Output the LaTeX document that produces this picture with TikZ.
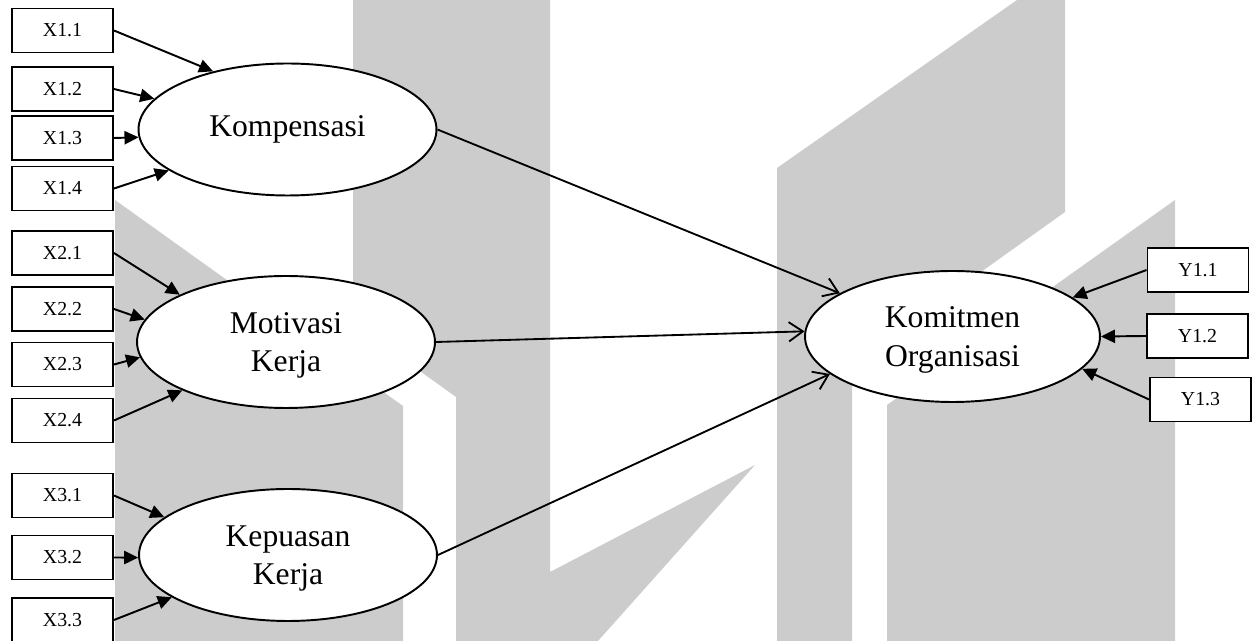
\documentclass[tikz,border=0pt]{standalone}
\usepackage{fontspec}
\setmainfont{Liberation Serif}
\usetikzlibrary{shapes.geometric}
\usetikzlibrary{arrows.meta}
\definecolor{wmgray}{RGB}{204,204,204}

\begin{document}
\begin{tikzpicture}[x=0.02cm, y=-0.02cm,
	ind/.style={draw, fill=white, line width=1.1pt, minimum width=2.02cm, minimum height=0.88cm, inner sep=0pt, font=\fontsize{11.3}{13}\selectfont},
	lat/.style={draw, ellipse, fill=white, line width=1.1pt, minimum width=5.96cm, minimum height=2.64cm, inner sep=0pt, align=center, font=\fontsize{18}{22}\selectfont},
	lat2/.style={lat, text depth=-4pt},
	loading/.style={-{Triangle[length=8pt,width=7.5pt]}, line width=1.1pt},
	effect/.style={-{Straight Barb[length=8pt,width=11pt]}, line width=1.05pt}]
		\useasboundingbox (0,0) rectangle (1255,641);
		\fill[wmgray] (115,200) -- (403,406) -- (403,641) -- (115,641) -- cycle;
		\fill[wmgray] (353,0) -- (550,0) -- (550,572) -- (755,465) -- (598,641) -- (456,641) -- (456,397) -- (353,323) -- cycle;
		\fill[wmgray] (777,641) -- (777,168) -- (1017,0) -- (1065,0) -- (1065,212) -- (852,364) -- (852,641) -- cycle;
		\fill[wmgray] (887,641) -- (887,405) -- (1175,200) -- (1175,641) -- cycle;
		\node (x11) [ind] at (62.5,30.5) {X1.1};
		\node (x12) [ind] at (62.5,89) {X1.2};
		\node (x13) [ind] at (62.5,138) {X1.3};
		\node (x14) [ind] at (62.5,188.5) {X1.4};
		\node (x21) [ind] at (62.5,253) {X2.1};
		\node (x22) [ind] at (62.5,309) {X2.2};
		\node (x23) [ind] at (62.5,364.5) {X2.3};
		\node (x24) [ind] at (62.5,420.5) {X2.4};
		\node (x31) [ind] at (62.5,495.5) {X3.1};
		\node (x32) [ind] at (62.5,557.5) {X3.2};
		\node (x33) [ind] at (62.5,620) {X3.3};
		\node (y11) [ind] at (1198,270) {Y1.1};
		\node (y12) [ind] at (1197.5,336) {Y1.2};
		\node (y13) [ind] at (1200.5,399.5) {Y1.3};
		\node (komp) [lat] at (287.5,129.5) {Kompensasi};
		\node (motiv) [lat2] at (286,342) {Motivasi\\Kerja};
		\node (kepu) [lat2] at (288,555) {Kepuasan\\Kerja};
		\node (komit) [lat2, minimum width=5.9cm, minimum height=2.62cm] at (952.5,336.5) {Komitmen\\Organisasi};
		\draw[loading] (x11.east) -- (komp.142);
		\draw[loading] (x12.east) -- (komp.167);
		\draw[loading] (x13.east) -- (komp.183);
		\draw[loading] (x14.east) -- (komp.199);
		\draw[loading] (x21.east) -- (motiv.156);
		\draw[loading] (x22.east) -- (motiv.171);
		\draw[loading] (x23.east) -- (motiv.186);
		\draw[loading] (x24.east) -- (motiv.205);
		\draw[loading] (x31.east) -- (kepu.163);
		\draw[loading] (x32.east) -- (kepu.181);
		\draw[loading] (x33.east) -- (kepu.200);
		\draw[effect] (komp.east) -- (komit.159);
		\draw[effect] (motiv.east) -- (komit.178);
		\draw[effect] (kepu.east) -- (komit.197);
		\draw[loading] (y11.west) -- (komit.18);
		\draw[loading] (y12.west) -- (komit.0);
		\draw[loading] (y13.west) -- (komit.346);
\end{tikzpicture}
\end{document}
